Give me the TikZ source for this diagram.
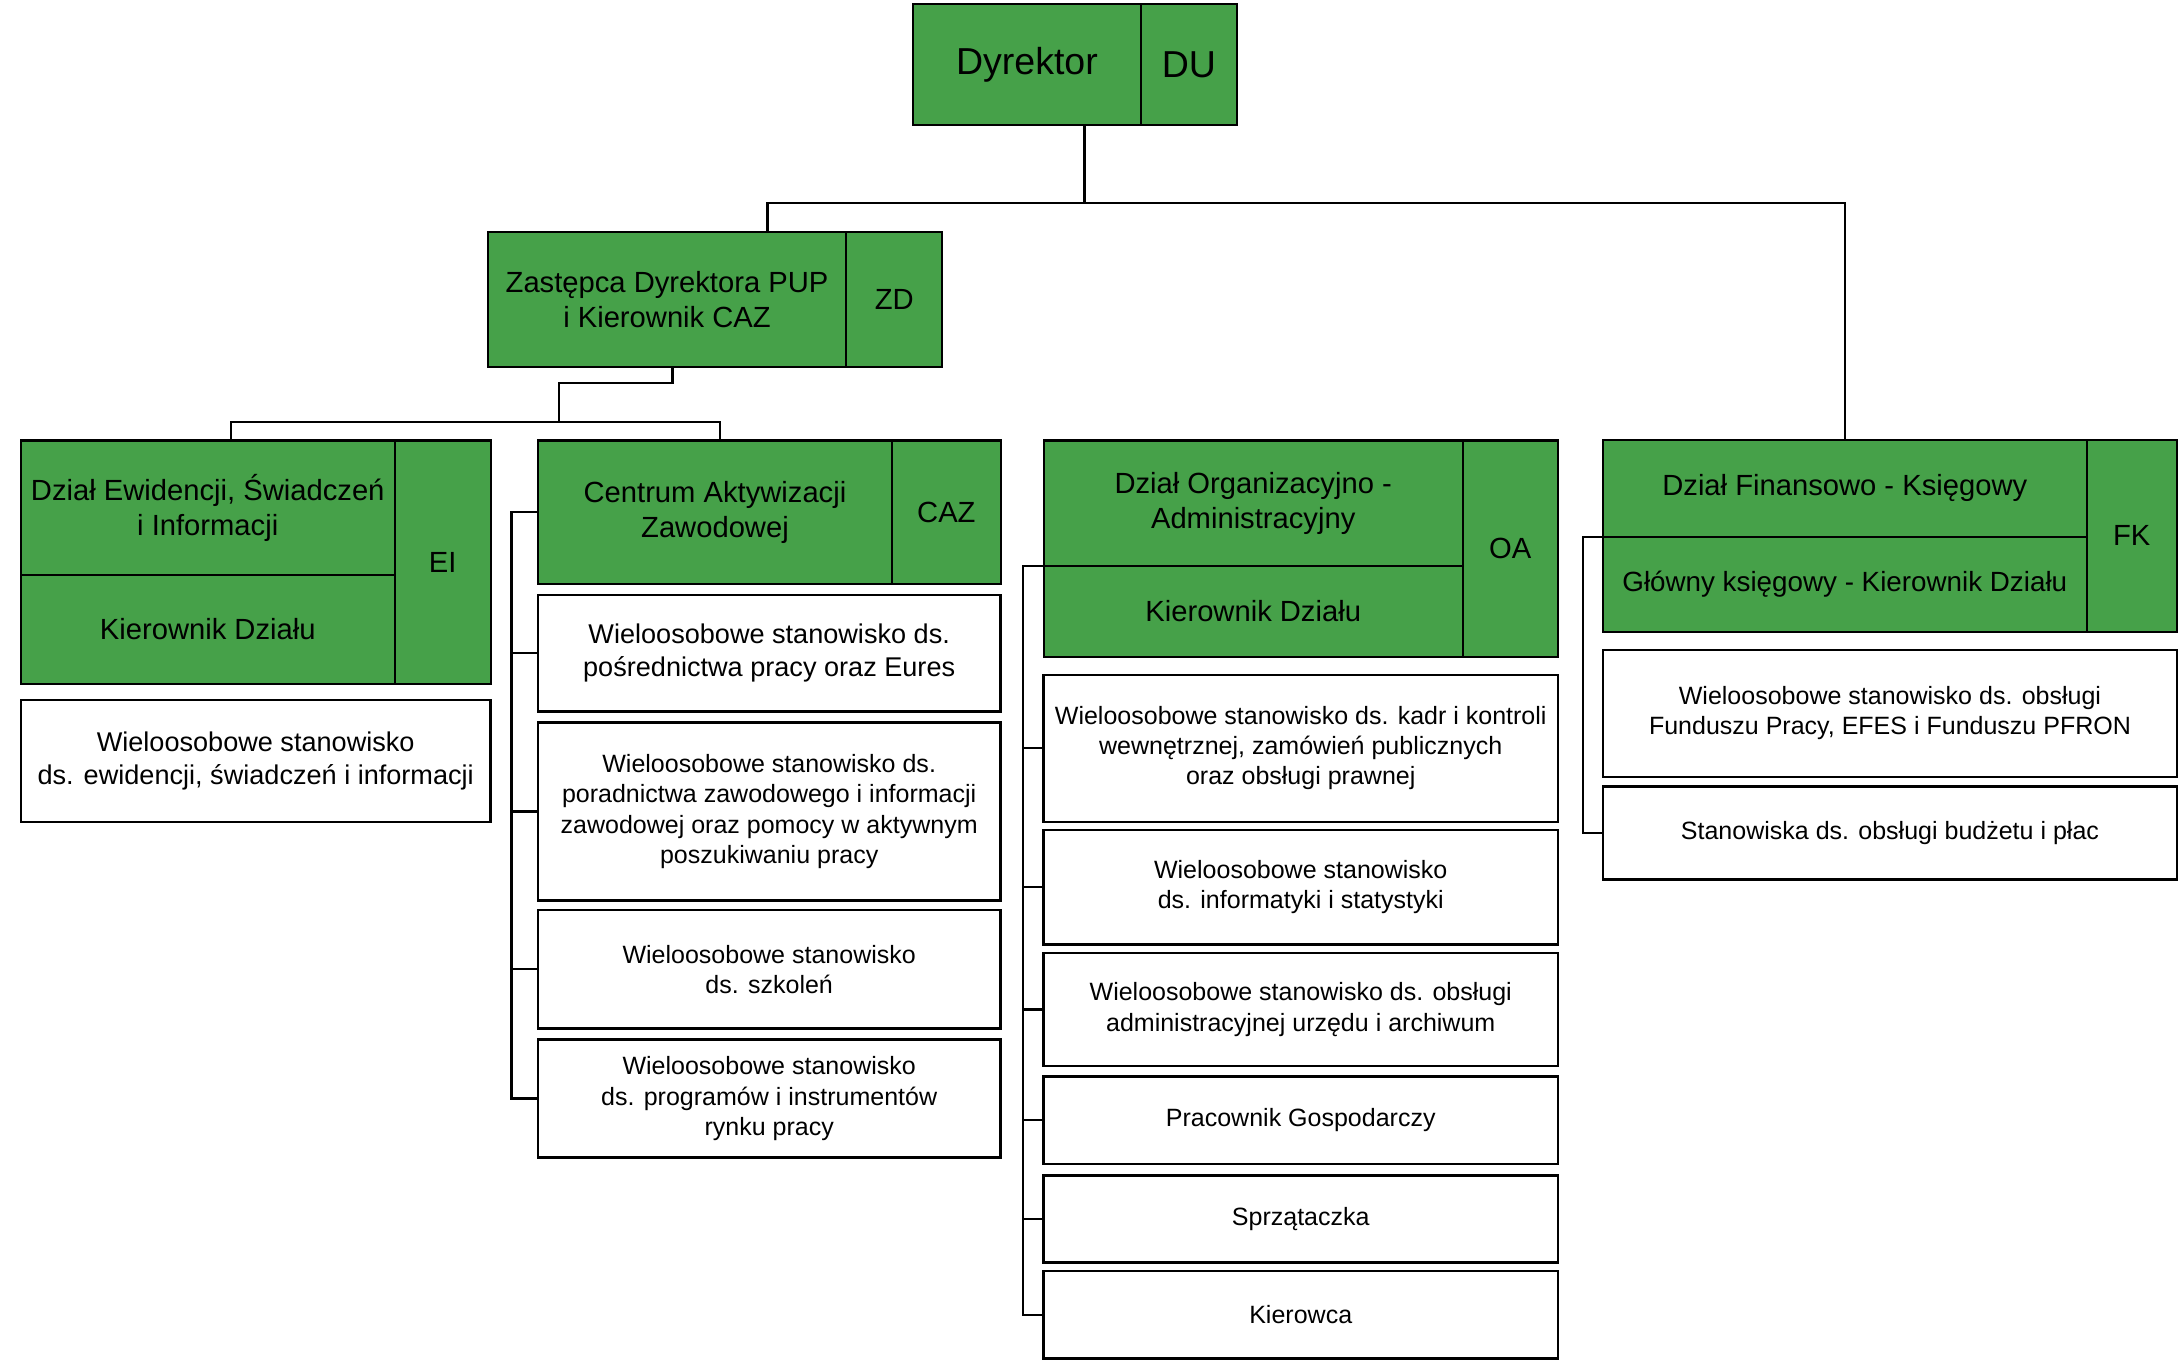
\documentclass[tikz,border=0pt]{standalone}
\usepackage{fontspec}
\setmainfont{Liberation Sans}
\definecolor{boxgreen}{HTML}{46A149}
\begin{document}
\begin{tikzpicture}[x=1pt,y=-1pt,
  cellbase/.style={draw=black, inner sep=0pt, outer sep=0pt, align=center, text=black},
  gcell/.style={cellbase, fill=boxgreen, line width=1.5pt, font=\fontsize{21}{25}\selectfont},
  bigcell/.style={gcell, font=\fontsize{27}{32}\selectfont},
  wcell/.style={cellbase, fill=white, line width=1.7pt, font=\fontsize{18}{21.7}\selectfont},
  wcellL/.style={wcell, font=\fontsize{19.5}{23.5}\selectfont},
  conn/.style={draw=black, line width=1.6pt}]
\useasboundingbox (0,0) rectangle (1568,979);

% ---------- connectors ----------
\coordinate (bT) at (780.4,146.2);
\coordinate (bL) at (552.3,146.2);
\coordinate (z1) at (484,275.5);
\coordinate (z2) at (402,275.5);
\coordinate (z3) at (402,303.5);
\coordinate (eL) at (166,303.5);
\coordinate (cR) at (518,303.5);
\coordinate (cx) at (368,0);
\coordinate (ox) at (736,0);
\coordinate (fx) at (1139,0);

% ---------- Dyrektor ----------
\node[bigcell, minimum width=164pt, minimum height=87pt] (dyrname) at (739,46.5) {Dyrektor};
\node[bigcell, minimum width=69pt, minimum height=87pt] (dyrcode) at (855.5,46.5) {DU};

% ---------- ZD ----------
\node[gcell, minimum width=258pt, minimum height=97pt] (zdname) at (480,215.5) {Zastępca Dyrektora PUP\\i Kierownik CAZ};
\node[gcell, minimum width=69pt, minimum height=97pt] (zdcode) at (643.5,215.5) {ZD};

% ---------- EI ----------
\node[gcell, minimum width=269pt, minimum height=97pt] (einame) at (149.5,365.5) {Dział Ewidencji, Świadczeń\\i Informacji};
\node[gcell, minimum width=269pt, minimum height=78pt] (eikier) at (149.5,453) {Kierownik Działu};
\node[gcell, minimum width=69pt, minimum height=175pt] (eicode) at (318.5,404.5) {EI};
\node[wcellL, minimum width=338pt, minimum height=88pt] (ei1) at (184,547.5) {Wieloosobowe stanowisko\\ds. ewidencji, świadczeń i informacji};

% ---------- CAZ ----------
\node[gcell, minimum width=255pt, minimum height=103pt] (cazname) at (514.5,368.5) {Centrum Aktywizacji\\Zawodowej};
\node[gcell, minimum width=78pt, minimum height=103pt] (cazcode) at (681,368.5) {CAZ};
\node[wcellL, minimum width=333pt, minimum height=84pt] (caz1) at (553.5,470) {Wieloosobowe stanowisko ds.\\pośrednictwa pracy oraz Eures};
\node[wcell, minimum width=333pt, minimum height=128pt] (caz2) at (553.5,584) {Wieloosobowe stanowisko ds.\\poradnictwa zawodowego i informacji\\zawodowej oraz pomocy w aktywnym\\poszukiwaniu pracy};
\node[wcell, minimum width=333pt, minimum height=85pt] (caz3) at (553.5,697.5) {Wieloosobowe stanowisko\\ds. szkoleń};
\node[wcell, minimum width=333pt, minimum height=85pt] (caz4) at (553.5,790.5) {Wieloosobowe stanowisko\\ds. programów i instrumentów\\rynku pracy};

% ---------- OA ----------
\node[gcell, minimum width=301.6pt, minimum height=90.4pt] (oaname) at (901.8,362.2) {Dział Organizacyjno -\\Administracyjny};
\node[gcell, minimum width=301.6pt, minimum height=65.2pt] (oakier) at (901.8,440) {Kierownik Działu};
\node[gcell, minimum width=68.4pt, minimum height=155.6pt] (oacode) at (1086.8,394.8) {OA};
\node[wcell, minimum width=370pt, minimum height=106pt] (oa1) at (936,538.5) {Wieloosobowe stanowisko ds. kadr i kontroli\\wewnętrznej, zamówień publicznych\\oraz obsługi prawnej};
\node[wcell, minimum width=370pt, minimum height=82.3pt] (oa2) at (936,638.45) {Wieloosobowe stanowisko\\ds. informatyki i statystyki};
\node[wcell, minimum width=370pt, minimum height=81.2pt] (oa3) at (936,726.4) {Wieloosobowe stanowisko ds. obsługi\\administracyjnej urzędu i archiwum};
\node[wcell, minimum width=370pt, minimum height=62.8pt] (oa4) at (936,806) {Pracownik Gospodarczy};
\node[wcell, minimum width=370pt, minimum height=62.8pt] (oa5) at (936,877.2) {Sprzątaczka};
\node[wcell, minimum width=370pt, minimum height=62.7pt] (oa6) at (936,946.15) {Kierowca};

% ---------- FK ----------
\node[gcell, minimum width=348.1pt, minimum height=69.6pt] (fkname) at (1327.5,351.4) {Dział Finansowo - Księgowy};
\node[gcell, font=\fontsize{20}{24}\selectfont, minimum width=348.1pt, minimum height=68.3pt] (fkkier) at (1327.5,420.35) {Główny księgowy - Kierownik Działu};
\node[gcell, minimum width=64.9pt, minimum height=137.9pt] (fkcode) at (1534,385.55) {FK};
\node[wcell, minimum width=413pt, minimum height=91.2pt] (fk1) at (1360,513.3) {Wieloosobowe stanowisko ds. obsługi\\Funduszu Pracy, EFES i Funduszu PFRON};
\node[wcell, minimum width=413pt, minimum height=67pt] (fk2) at (1360,599.5) {Stanowiska ds. obsługi budżetu i płac};

% ---------- connector lines ----------
\draw[conn] (dyrname.south -| bT) -- (bT);
\draw[conn] (zdname.north -| bL) -- (bL) -- (bL -| fkname.north) -- (fkname.north);
\draw[conn] (zdname.south -| z1) -- (z1) -- (z2) -- (z3);
\draw[conn] (einame.north -| eL) -- (eL) -- (cR) -- (cazname.north -| cR);

\draw[conn] (cazname.west) -- (cazname.west -| cx) -- (caz4.west -| cx) -- (caz4.west);
\foreach \n in {caz1,caz2,caz3} \draw[conn] (\n.west -| cx) -- (\n.west);

\draw[conn] (oakier.north west) -- (oakier.north west -| ox) -- (oa6.west -| ox) -- (oa6.west);
\foreach \n in {oa1,oa2,oa3,oa4,oa5} \draw[conn] (\n.west -| ox) -- (\n.west);

\draw[conn] (fkkier.north west) -- (fkkier.north west -| fx) -- (fk2.west -| fx) -- (fk2.west);
\end{tikzpicture}
\end{document}
